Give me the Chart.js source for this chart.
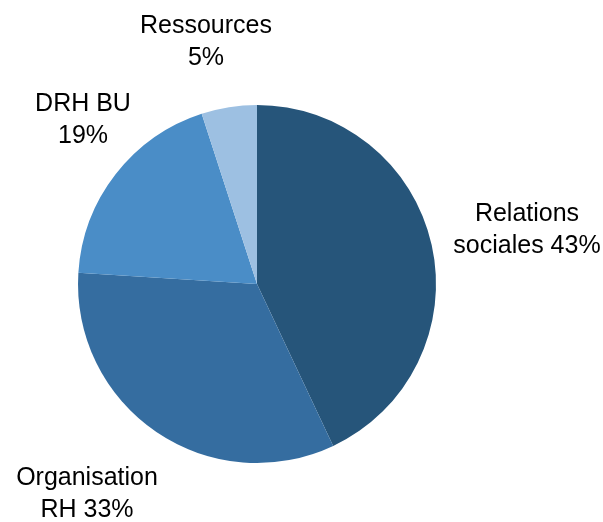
<!DOCTYPE html>
<html>
<head>
<meta charset="utf-8">
<script src="https://cdn.jsdelivr.net/npm/chart.js@4/dist/chart.umd.min.js"></script>
<style>
    html, body { margin: 0; padding: 0; background: #ffffff; }
    #wrap { width: 603px; height: 522px; }
</style>
</head>
<body>
<div id="wrap"><canvas id="pieChart" width="603" height="522"></canvas></div>
<script>
// Données du graphique
const categories = ['Relations sociales', 'Organisation RH', 'DRH BU', 'Ressources'];
const values = [43, 33, 19, 5];
const labelLines = [
    ['Relations', 'sociales 43%'],
    ['Organisation', 'RH 33%'],
    ['DRH BU', '19%'],
    ['Ressources', '5%']
];
const colors = ['#26557A', '#356DA0', '#4A8DC7', '#9DC0E2'];

// Décalage des étiquettes par rapport au centre du camembert
const labelOffsets = [[270, -54], [-170, 210], [-174, -164], [-51, -242]];

// Plugin pour dessiner les étiquettes à l'extérieur
const outsideLabels = {
    id: 'outsideLabels',
    afterDatasetsDraw(chart) {
        const ctx = chart.ctx;
        const meta = chart.getDatasetMeta(0);
        ctx.save();
        ctx.font = '25px "Liberation Sans", Arial, sans-serif';
        ctx.fillStyle = '#000000';
        ctx.textAlign = 'center';
        ctx.textBaseline = 'middle';
        meta.data.forEach((arc, i) => {
            const cx = arc.x + labelOffsets[i][0];
            const cy = arc.y + labelOffsets[i][1];
            const lines = labelLines[i];
            const lh = 32;
            lines.forEach((line, j) => {
                ctx.fillText(line, cx, cy + (j - (lines.length - 1) / 2) * lh);
            });
        });
        ctx.restore();
    }
};

document.addEventListener('DOMContentLoaded', function() {
    new Chart(document.getElementById('pieChart'), {
        type: 'pie',
        data: {
            labels: categories,
            datasets: [{
                data: values,
                backgroundColor: colors,
                borderWidth: 0
            }]
        },
        options: {
            responsive: false,
            animation: false,
            layout: {
                padding: { left: 78, right: 167, top: 105, bottom: 59 }
            },
            plugins: {
                legend: { display: false },
                tooltip: { enabled: false }
            }
        },
        plugins: [outsideLabels]
    });
});
</script>
</body>
</html>
